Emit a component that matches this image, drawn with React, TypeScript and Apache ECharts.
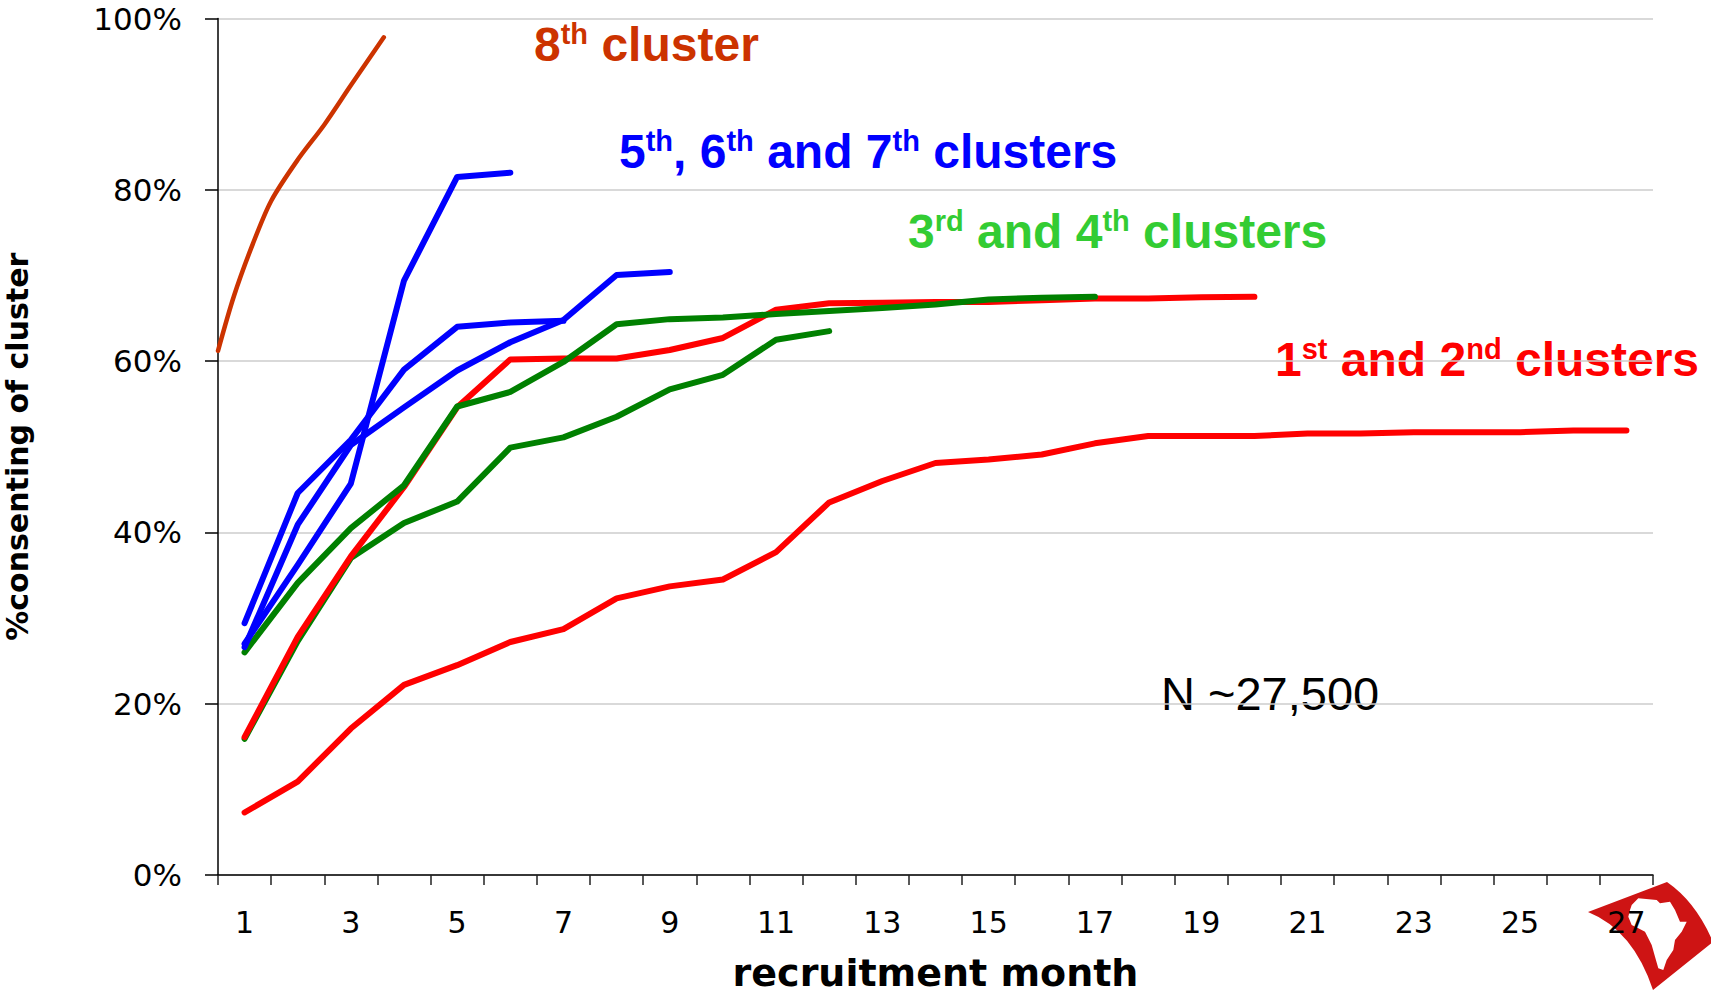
import React, { useEffect, useRef } from 'react';
import * as echarts from 'echarts';

const MONTHS = ['1', '2', '3', '4', '5', '6', '7', '8', '9', '10', '11', '12', '13', '14', '15', '16', '17', '18', '19', '20', '21', '22', '23', '24', '25', '26', '27'];

// 1st and 2nd clusters (red)
const RED_LOWER = [7.3, 10.9, 17.1, 22.2, 24.5, 27.2, 28.7, 32.3, 33.7, 34.5, 37.7, 43.5, 46.0, 48.1, 48.5, 49.1, 50.4, 51.25, 51.25, 51.25, 51.55, 51.55, 51.7, 51.7, 51.7, 51.9, 51.9];
const RED_UPPER = [16.1, 27.8, 37.2, 45.3, 54.6, 60.2, 60.3, 60.3, 61.3, 62.7, 66.0, 66.75, 66.8, 66.9, 66.9, 67.1, 67.3, 67.3, 67.45, 67.5];
// 3rd and 4th clusters (green)
const GREEN_LOWER = [15.9, 27.3, 37.0, 41.1, 43.6, 49.9, 51.1, 53.5, 56.7, 58.4, 62.5, 63.5];
const GREEN_UPPER = [26.0, 34.1, 40.5, 45.5, 54.7, 56.4, 59.9, 64.3, 64.9, 65.1, 65.5, 65.85, 66.2, 66.6, 67.2, 67.4, 67.5];
// 5th, 6th and 7th clusters (blue)
const BLUE_STEEP = [27.0, 36.2, 45.7, 69.4, 81.5, 82.0];
const BLUE_MID = [29.4, 44.6, 50.8, 59.0, 64.0, 64.5, 64.7];
const BLUE_LONG = [26.6, 40.9, 50.2, 54.6, 58.9, 62.2, 64.8, 70.05, 70.4];
// 8th cluster (continuous position along month axis, 0 = axis start)
const EIGHTH_X = [0, 0.3, 0.65, 1.0, 1.5, 2.0, 2.5, 3.12];
const EIGHTH_Y = [61.2, 67.6, 73.6, 78.7, 83.5, 87.6, 92.2, 97.8];

const Y_LABEL_SUFFIX = '%';

const ANNOTATIONS = [
  { text: '{m|8}{s|th}{m| cluster}', color: '#CC3300' },
  { text: '{m|5}{s|th}{m|, 6}{s|th}{m| and 7}{s|th}{m| clusters}', color: '#0000FF' },
  { text: '{m|3}{s|rd}{m| and 4}{s|th}{m| clusters}', color: '#33CC33' },
  { text: '{m|1}{s|st}{m| and 2}{s|nd}{m| clusters}', color: '#FF0000' },
];
const ANNOT_POS = [
  [534, 44],
  [619, 151],
  [908, 231],
  [1275, 359],
];
const N_TEXT = 'N ~27,500';

const AFRICA_REL = [
  [43.7, 25], [50.3, 18.3], [68.7, 20], [72, 23.3], [82, 21.7], [87, 30], [92, 41.7], [98.7, 41.7],
  [93.7, 51.7], [87, 60], [85.3, 70], [78.7, 80], [75.3, 90], [70.3, 88.3], [67, 76.7], [63.7, 65],
  [60.3, 58.3], [57, 51.7], [50.3, 48.3], [43.7, 45], [40.3, 36.7], [42, 30],
];

let registered = false;
function registerLogo() {
  if (registered) return;
  registered = true;
  const Flag = echarts.graphic.extendPath('M0,32 L79,2 Q108,22 125,62 L65,110 Q45,50 0,32 Z', {});
  echarts.graphic.registerShape('logoFlag', Flag);
}

export default function App() {
  const ref = useRef<HTMLDivElement>(null);

  useEffect(() => {
    document.body.style.margin = '0';
    registerLogo();
    const chart = echarts.init(ref.current as HTMLDivElement, null, { renderer: 'svg' });

    const mkLine = (name: string, data: number[], color: string, width = 6) => ({
      type: 'line',
      name,
      data,
      symbol: 'none',
      showSymbol: false,
      xAxisIndex: 0,
      yAxisIndex: 0,
      lineStyle: { color, width, cap: 'round', join: 'round' },
      itemStyle: { color },
      emphasis: { disabled: true },
      silent: true,
    });

    const ox = 1588, oy = 880;

    const option: any = {
      animation: false,
      backgroundColor: '#ffffff',
      grid: { left: 218, right: 58, top: 18.5, bottom: 122, containLabel: false, outerBoundsMode: 'none' },
      xAxis: [
        {
          type: 'category',
          data: MONTHS,
          boundaryGap: true,
          axisLine: { show: true, lineStyle: { color: '#000', width: 1.5 } },
          axisTick: { show: true, interval: 0, length: 10, lineStyle: { color: '#222', width: 1.5 } },
          axisLabel: { interval: 1, margin: 32, fontSize: 30, fontFamily: 'DejaVu Sans', color: '#000' },
          splitLine: { show: false },
          name: 'recruitment month',
          nameLocation: 'middle',
          nameGap: 83,
          nameTextStyle: { fontSize: 38, lineHeight: 30, fontWeight: 'bold', fontFamily: 'DejaVu Sans', color: '#000' },
        },
        { type: 'value', min: 0, max: 27, show: false, splitLine: { show: false } },
      ],
      yAxis: {
        type: 'value',
        min: 0,
        max: 100,
        interval: 20,
        axisLine: { show: true, lineStyle: { color: '#000', width: 1.5 } },
        axisTick: { show: true, length: 13, lineStyle: { color: '#000', width: 1.5 } },
        axisLabel: { formatter: '{value}' + Y_LABEL_SUFFIX, margin: 36, fontSize: 31, fontFamily: 'DejaVu Sans', color: '#000' },
        splitLine: { show: true, lineStyle: { color: '#cccccc', width: 1.5, type: 'solid' } },
        name: '%consenting of cluster',
        nameLocation: 'middle',
        nameGap: 186,
        nameRotate: 90,
        nameTextStyle: { fontSize: 30, fontWeight: 'bold', fontFamily: 'DejaVu Sans', color: '#000' },
      },
      series: [
        mkLine('1st cluster', RED_LOWER, '#FF0000'),
        mkLine('3rd cluster', GREEN_LOWER, '#008000'),
        mkLine('2nd cluster', RED_UPPER, '#FF0000'),
        mkLine('4th cluster', GREEN_UPPER, '#008000'),
        mkLine('5th cluster', BLUE_LONG, '#0000FF'),
        mkLine('6th cluster', BLUE_MID, '#0000FF'),
        mkLine('7th cluster', BLUE_STEEP, '#0000FF'),
        {
          type: 'line',
          name: '8th cluster',
          xAxisIndex: 1,
          yAxisIndex: 0,
          data: EIGHTH_X.map((x, i) => [x, EIGHTH_Y[i]]),
          smooth: 0.3,
          symbol: 'none',
          showSymbol: false,
          lineStyle: { color: '#CC3300', width: 4.5, cap: 'round', join: 'round' },
          itemStyle: { color: '#CC3300' },
          silent: true,
        },
      ],
      graphic: [
        ...ANNOTATIONS.map((a, i) => ({
          type: 'text',
          x: ANNOT_POS[i][0],
          y: ANNOT_POS[i][1],
          style: {
            text: a.text,
            fill: a.color,
            verticalAlign: 'middle',
            align: 'left',
            rich: {
              m: { fontSize: 48, fontWeight: 'bold', fontFamily: 'Liberation Sans', lineHeight: 50, fill: a.color },
              s: { fontSize: 29, fontWeight: 'bold', fontFamily: 'Liberation Sans', lineHeight: 34, verticalAlign: 'top', fill: a.color },
            },
          },
        })),
        {
          type: 'text',
          x: 1161,
          y: 693,
          style: { text: N_TEXT, fill: '#000', fontSize: 47, fontFamily: 'Liberation Sans', verticalAlign: 'middle', align: 'left' },
        },
        { type: 'logoFlag', x: ox, y: oy, z: -2, style: { fill: '#CE1414' } },
        {
          type: 'polygon',
          z: -1,
          shape: { points: AFRICA_REL.map(p => [p[0] + ox, p[1] + oy]) },
          style: { fill: '#ffffff' },
        },
      ],
    };

    chart.setOption(option);
    return () => chart.dispose();
  }, []);

  return <div ref={ref} style={{ position: 'absolute', left: 0, top: 0, width: 1711, height: 997 }} />;
}
